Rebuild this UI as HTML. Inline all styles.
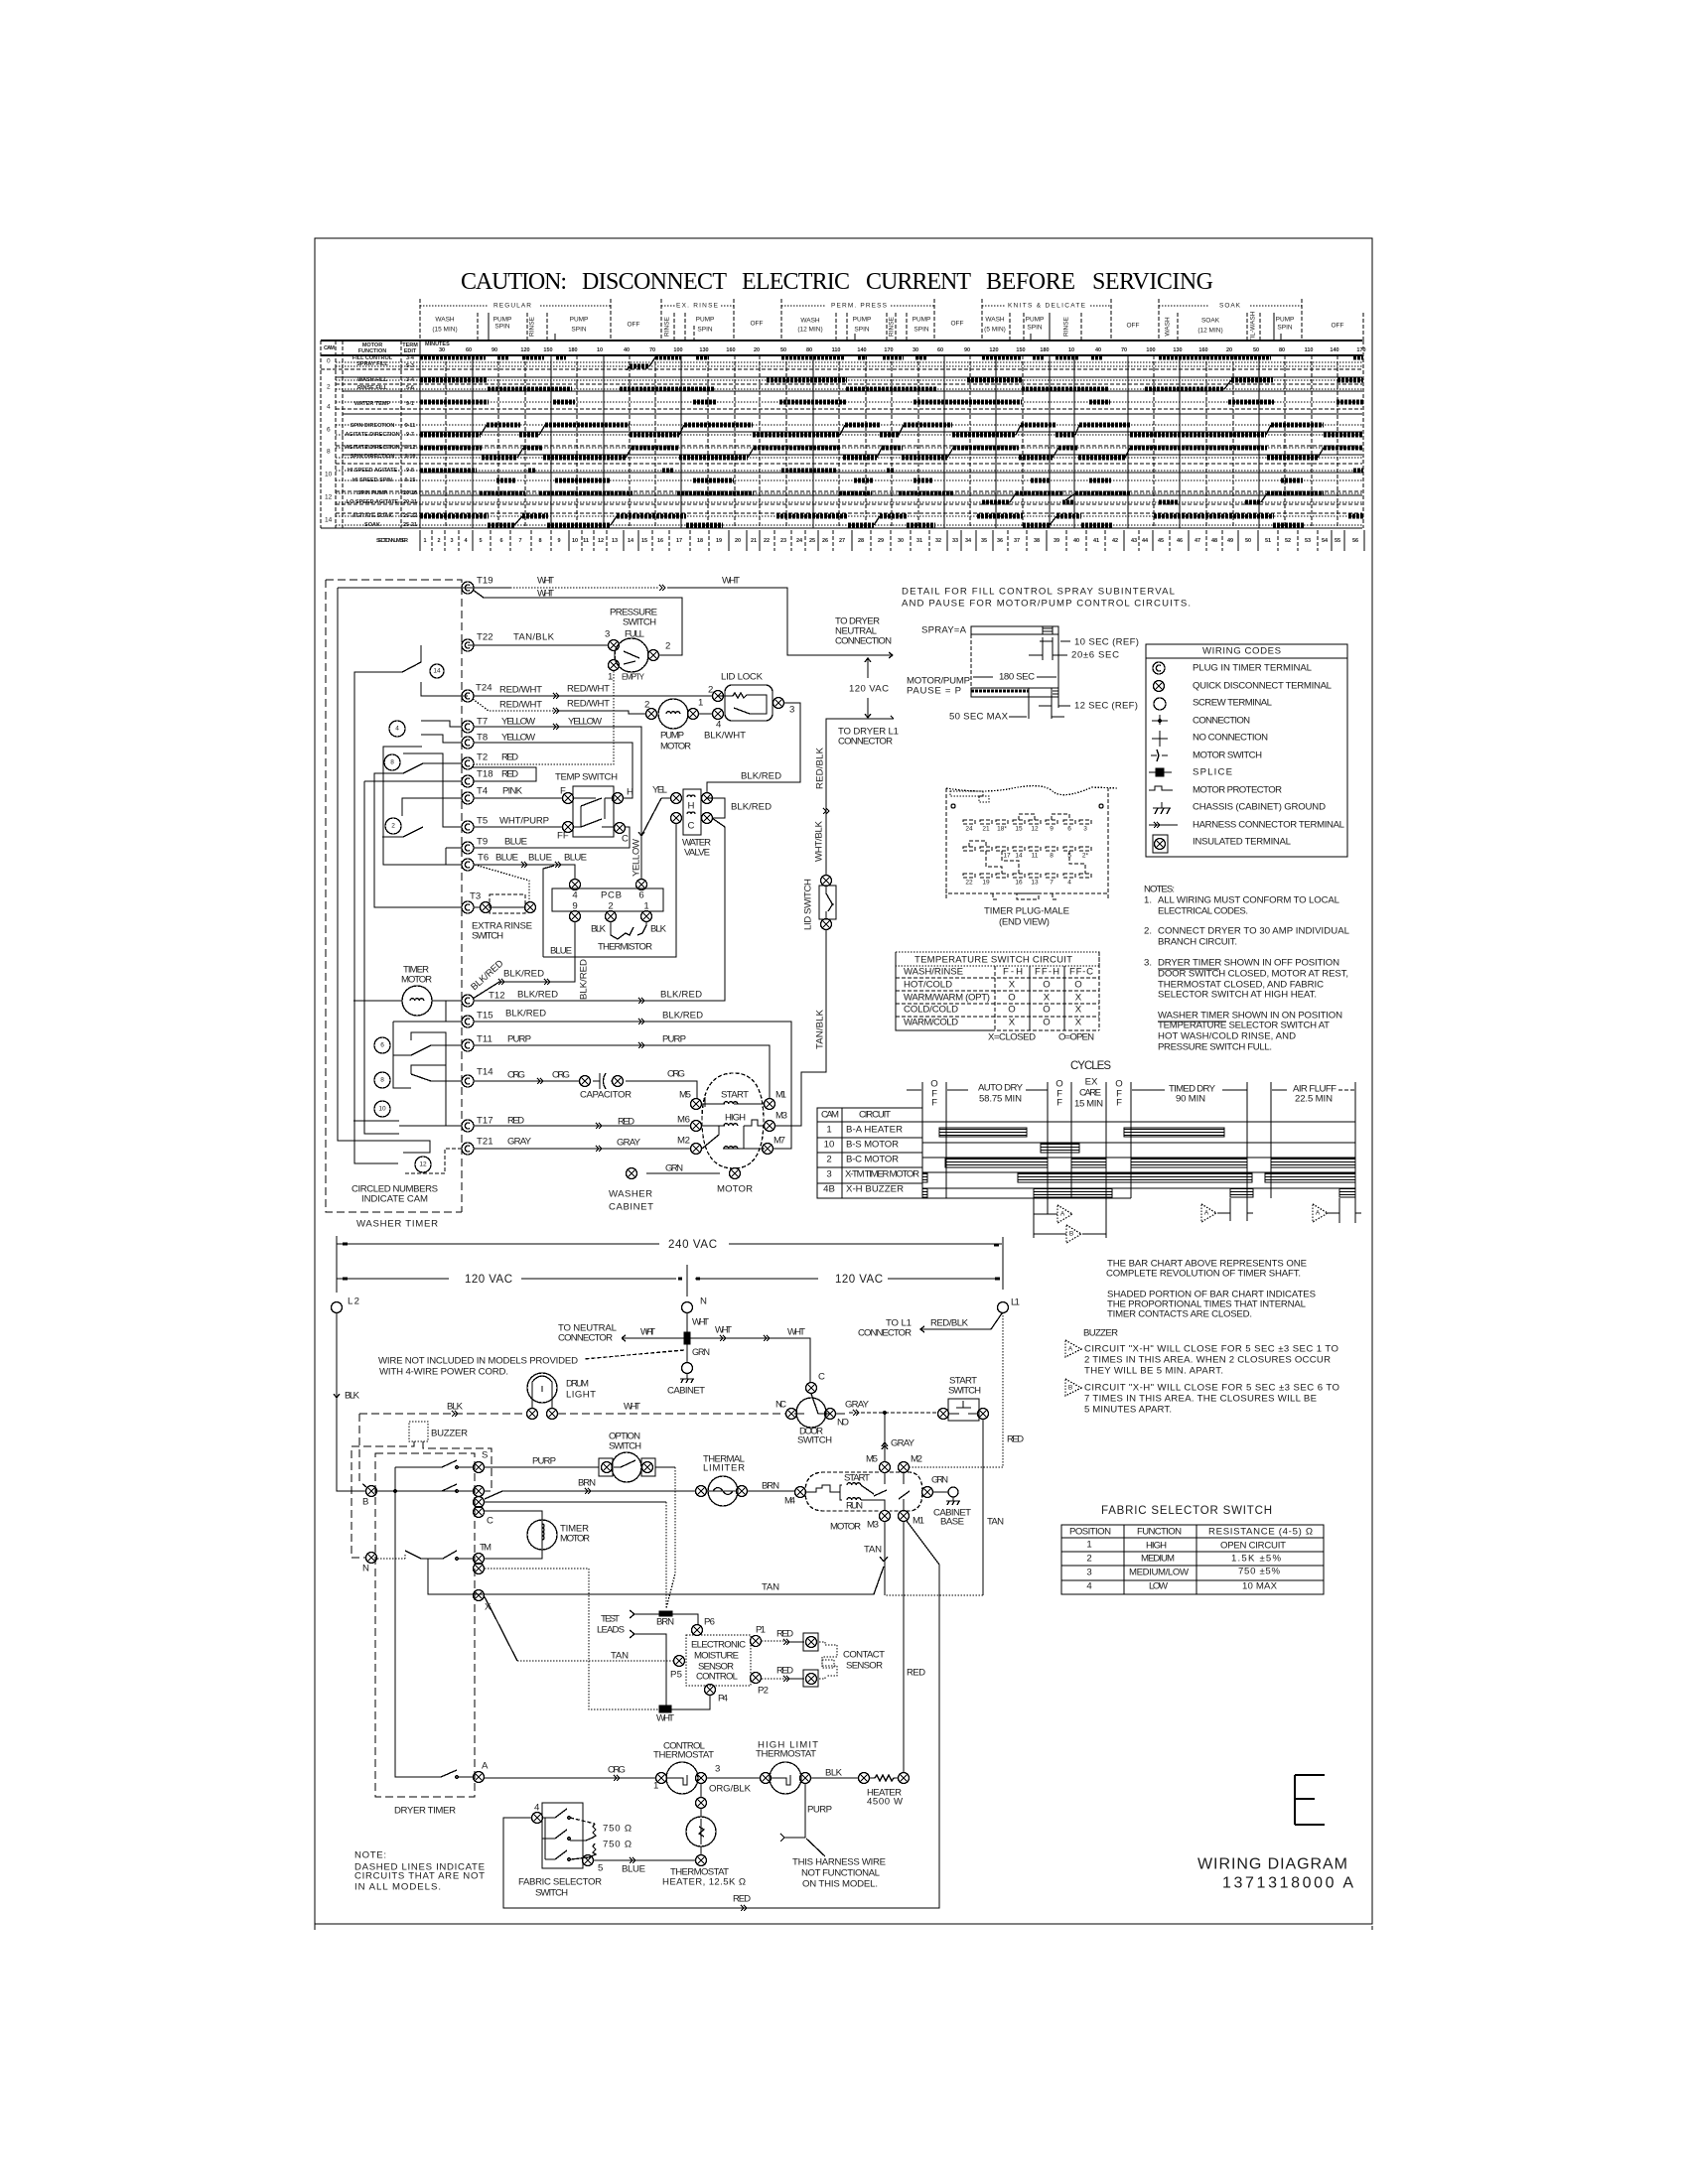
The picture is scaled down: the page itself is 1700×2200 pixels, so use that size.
<!DOCTYPE html>
<html><head><meta charset="utf-8"><title>Wiring Diagram</title>
<style>
html,body{margin:0;padding:0;background:#fff}
svg{display:block}
path,rect,circle,ellipse,line{fill:none;stroke:#000;stroke-width:1.3;shape-rendering:crispEdges}
.d{stroke-dasharray:1.5 1.5}
.da{stroke-dasharray:8 4}
.dm{stroke-dasharray:4 2}
.f{fill:#000}
.w{fill:#fff}
.b{stroke-width:5;stroke-dasharray:3 1;stroke:#000}
text{font-family:"Liberation Sans",sans-serif;font-size:9.6px;fill:#1a1a1a;dominant-baseline:central;stroke:none}
.s{font-size:5.5px;font-weight:bold}
.m{text-anchor:middle}
.n{font-size:6.5px}
.l{font-size:11.5px}
.ti{font-family:"Liberation Serif",serif;font-size:24px;fill:#000}
</style></head><body>
<svg width="1700" height="2200" viewBox="0 0 1700 2200" xmlns="http://www.w3.org/2000/svg">
<defs>
<g id="x"><circle r="5.5"/><path d="M-4-4L4 4M-4 4L4-4"/></g>
<g id="t"><circle r="6"/><path d="M2-2.5A3 3 0 1 0 2 2.5"/></g>
<g id="h"><path d="M-3-3L0 0L-3 3M0-3L3 0L0 3"/></g>
<g id="p"><circle r="1.4" class="w"/></g>
<g id="c"><path d="M-7 0a2.3 2.3 0 0 1 4.6 0a2.3 2.3 0 0 1 4.6 0a2.3 2.3 0 0 1 4.6 0"/></g>
<g id="tri"><path d="M0-9L15 0L0 9Z" class="d"/></g>
</defs>
<rect x="0" y="0" width="1700" height="2200" style="fill:#fff;stroke:none"/>
<rect x="317" y="240" width="1065" height="1698"/>
<path d="M1382 1940V1944M317 1938V1944"/>

<!-- TITLE -->
<text class="ti" x="464" y="284" textLength="107">CAUTION:</text>
<text class="ti" x="586" y="284" textLength="146">DISCONNECT</text>
<text class="ti" x="747" y="284" textLength="109">ELECTRIC</text>
<text class="ti" x="872" y="284" textLength="106">CURRENT</text>
<text class="ti" x="993" y="284" textLength="90">BEFORE</text>
<text class="ti" x="1100" y="284" textLength="122">SERVICING</text>

<!-- CYCLE HEADER -->
<path class="d" d="M423 308H491M544 308H615M666 308H680M726 308H739M787 308H832M897 308H941M989 308H1012M1098 308H1119M1167 308H1218M1259 308H1311"/>
<path class="dm" d="M423 301V343M615 301V343M666 301V343M739 301V343M787 301V343M941 301V343M989 301V343M1119 301V343M1167 301V343M1311 301V343M1373 315V343"/>
<path class="dm" d="M481 315V343M531 315V343M551 315V343M679 315V343M690 315V343M699 328V343M842 315V343M853 315V343M893 315V343M902 315V343M913 315V343M1017 315V343M1031 315V343M1089 315V343M1186 315V343M1256 315V343M1269 315V343"/>
<path d="M492 315V343M559 336V343M861 336V343M1038 336V343M1057 315V343M1283 315V343M1290 336V343"/>
<text class="n" x="497" y="308" textLength="38">REGULAR</text>
<text class="n" x="681" y="308" textLength="42">EX. RINSE</text>
<text class="n" x="837" y="308" textLength="56">PERM. PRESS</text>
<text class="n" x="1015" y="308" textLength="78">KNITS &amp; DELICATE</text>
<text class="n" x="1228" y="308" textLength="21">SOAK</text>
<g class="n">
<text class="n m" x="448" y="322">WASH</text><text class="n m" x="448" y="332">(15 MIN)</text>
<text class="n m" x="506" y="322">PUMP</text><text class="n m" x="506" y="329">SPIN</text>
<text class="n m" x="583" y="322">PUMP</text><text class="n m" x="583" y="332">SPIN</text>
<text class="n m" x="638" y="327">OFF</text>
<text class="n m" x="710" y="322">PUMP</text><text class="n m" x="710" y="332">SPIN</text>
<text class="n m" x="762" y="326">OFF</text>
<text class="n m" x="816" y="323">WASH</text><text class="n m" x="816" y="332">(12 MIN)</text>
<text class="n m" x="868" y="322">PUMP</text><text class="n m" x="868" y="332">SPIN</text>
<text class="n m" x="928" y="322">PUMP</text><text class="n m" x="928" y="332">SPIN</text>
<text class="n m" x="964" y="326">OFF</text>
<text class="n m" x="1002" y="322">WASH</text><text class="n m" x="1002" y="332">(5 MIN)</text>
<text class="n m" x="1042" y="322">PUMP</text><text class="n m" x="1042" y="330">SPIN</text>
<text class="n m" x="1141" y="328">OFF</text>
<text class="n m" x="1219" y="323">SOAK</text><text class="n m" x="1219" y="333">(12 MIN)</text>
<text class="n m" x="1294" y="322">PUMP</text><text class="n m" x="1294" y="330">SPIN</text>
<text class="n m" x="1347" y="328">OFF</text>
<text class="n m" transform="translate(536 329) rotate(-90)">RINSE</text>
<text class="n m" transform="translate(672 329) rotate(-90)">RINSE</text>
<text class="n m" transform="translate(898 329) rotate(-90)">RINSE</text>
<text class="n m" transform="translate(1074 329) rotate(-90)">RINSE</text>
<text class="n m" transform="translate(1176 329) rotate(-90)">WASH</text>
<text class="n m" transform="translate(1262 329) rotate(-90)">TIL-WASH</text>
</g>

<!-- CHART GRID -->
<path d="M323 343H1372" style="stroke-width:1.6"/>
<path d="M323 358H1372" style="stroke-width:1.6"/>
<path d="M338 380H1372M345 394H1372M345 417H1372M423 435H1372M345 458H1372M423 476H1372M423 499H1372M323 532H1372"/>
<path class="dm" d="M323 372H1372M338 387H1372M338 412H1372M338 449H1372M338 467H1372M338 495H1372M338 508H1372M338 517H1372"/>
<path class="d" d="M338 365H1372M338 369H1372M338 383H1372M338 392H1372M338 405H1372M338 428H1372M338 438H1372M338 451H1372M338 461H1372M338 474H1372M338 484H1372M338 497H1372M338 506H1372M338 520H1372M338 529H1372"/>
<path d="M423 343V532M476 358V532M555 358V532M608 358V532M686 358V532M819 358V532M951 358V532M1003 358V532M1057 358V532M1082 358V532M1136 358V532M1188 358V532M1268 358V532"/>
<path class="dm" d="M449 358V532M502 358V532M529 358V532M581 358V532M634 358V532M660 358V532M713 358V532M740 358V532M765 358V532M792 358V532M845 358V532M872 358V532M898 358V532M925 358V532M977 358V532M1030 358V532M1162 358V532M1215 358V532M1242 358V532M1294 358V532M1321 358V532M1347 358V532M1373 343V532"/>
<path class="dm" d="M323 343V532M338 343V532M345 343V532M404 343V532"/>
<!-- BARS -->
<path class="b" d="M423 360H489M501 360H512M526 360H548M560 360H570M660 360H686M701 360H714M787 360H850M864 360H873M889 360H910M922 360H933M989 360H1028M1040 360H1051M1063 360H1087M1099 360H1110M1167 360H1280M1363 360H1373M634 369H654
M423 383H491M772 383H853M974 383H1029M1240 383H1282M1347 383H1373
M491 392H576M624 392H719M852 392H943M1029 392H1117M1153 392H1233
M423 405H492M557 405H579M698 405H721M785 405H853M920 405H1029M1097 405H1118M1237 405H1283M1346 405H1373
M490 428H524M549 428H634M689 428H758M851 428H886M910 428H959M1028 428H1063M1087 428H1138M1280 428H1333
M423 438H484M523 438H543M634 438H684M758 438H846M886 438H905M959 438H1023M1063 438H1083M1138 438H1275M1333 438H1373
M423 451H485M527 451H547M636 451H684M759 451H846M888 451H909M960 451H1026M1066 451H1086M1138 451H1276M1333 451H1373
M485 461H521M547 461H630M684 461H753M849 461H883M908 461H954M1026 461H1060M1086 461H1133M1276 461H1327
M423 474H480M532 474H540M667 474H679M787 474H842M893 474H901M1363 474H1373
M500 484H519M559 484H614M698 484H739M860 484H880M920 484H940M1038 484H1057M1097 484H1119M1290 484H1312
M483 497H529M543 497H637M682 497H759M845 497H878M905 497H961M1023 497H1070M1083 497H1139M1276 497H1333
M989 506H1017M1070 506H1082M1167 506H1187M1254 506H1270
M423 520H492M526 520H552M621 520H691M782 520H854M886 520H913M984 520H1030M1064 520H1089M1162 520H1283M1358 520H1373
M491 529H518M551 529H615M691 529H728M854 529H880M913 529H942M1030 529H1057M1089 529H1121M1282 529H1313"/>
<path d="M631 373L634 369M654 369L660 360M1233 392L1240 383M484 438L490 428M543 438L549 428M684 438L689 428M846 438L851 428M905 438L910 428M1023 438L1028 428M1083 438L1087 428M1275 438L1280 428M521 461L527 451M630 461L636 451M753 461L759 451M883 461L888 451M954 461L960 451M1060 461L1066 451M1133 461L1138 451M1327 461L1333 451M1017 506L1023 497M1070 506L1083 497M1270 506L1276 497M518 529L526 520M615 529L621 520M880 529L886 520M1057 529L1064 520"/>
<!-- left labels -->
<text class="s" x="326" y="351" textLength="11">CAM</text>
<text class="s m" x="375" y="348">MOTOR</text><text class="s m" x="375" y="354">FUNCTION</text>
<text class="s m" x="413" y="348">TERM</text><text class="s m" x="413" y="354">EDIT</text>
<text class="n" x="329" y="364">0</text><text class="n" x="329" y="390">2</text><text class="n" x="329" y="410">4</text><text class="n" x="329" y="433">6</text><text class="n" x="329" y="455">8</text><text class="n" x="327" y="478">10</text><text class="n" x="327" y="501">12</text><text class="n" x="327" y="524">14</text>
<g>
<text class="s m" x="375" y="361">FILL CONTROL</text><text class="s m" x="375" y="367">SPRAY FILL</text>
<text class="s m" x="375" y="383">WASH FILL</text><text class="s m" x="375" y="391">RINSE FILL</text>
<text class="s m" x="375" y="407">WATER TEMP</text>
<text class="s m" x="375" y="429">SPIN DIRECTION</text><text class="s m" x="375" y="438">AGITATE DIRECTION</text>
<text class="s m" x="375" y="451">AGITATE DIRECTION</text><text class="s m" x="375" y="460">SPIN DIRECTION</text>
<text class="s m" x="375" y="474">HI SPEED AGITATE</text><text class="s m" x="375" y="484">HI SPEED SPIN</text>
<text class="s m" x="375" y="497">SPIN PUMP</text><text class="s m" x="375" y="506">LO SPEED AGITATE</text>
<text class="s m" x="375" y="520">AGITATE SOAK</text><text class="s m" x="375" y="529">SOAK</text>
<text class="s m" x="413" y="361">3-4</text><text class="s m" x="413" y="369">5-3</text><text class="s m" x="413" y="383">3-4</text><text class="s m" x="413" y="391">5-6</text><text class="s m" x="413" y="407">9-1</text><text class="s m" x="413" y="429">9-11</text><text class="s m" x="413" y="438">9-7</text><text class="s m" x="413" y="451">9-12</text><text class="s m" x="413" y="460">9-16</text><text class="s m" x="413" y="474">9-8</text><text class="s m" x="413" y="484">9-15</text><text class="s m" x="413" y="497">20-16</text><text class="s m" x="413" y="506">20-21</text><text class="s m" x="413" y="520">25-22</text><text class="s m" x="413" y="529">25-21</text>
</g>
<text class="s" x="428" y="347">MINUTES</text>
<g>
<text class="s m" x="445" y="353">30</text><text class="s m" x="472" y="353">60</text><text class="s m" x="498" y="353">90</text><text class="s m" x="529" y="353">120</text><text class="s m" x="552" y="353">150</text><text class="s m" x="577" y="353">180</text><text class="s m" x="604" y="353">10</text><text class="s m" x="631" y="353">40</text><text class="s m" x="657" y="353">70</text><text class="s m" x="683" y="353">100</text><text class="s m" x="709" y="353">130</text><text class="s m" x="736" y="353">160</text><text class="s m" x="762" y="353">20</text><text class="s m" x="789" y="353">50</text><text class="s m" x="815" y="353">80</text><text class="s m" x="842" y="353">110</text><text class="s m" x="868" y="353">140</text><text class="s m" x="895" y="353">170</text><text class="s m" x="922" y="353">30</text><text class="s m" x="947" y="353">60</text><text class="s m" x="974" y="353">90</text><text class="s m" x="1001" y="353">120</text><text class="s m" x="1028" y="353">150</text><text class="s m" x="1052" y="353">180</text><text class="s m" x="1079" y="353">10</text><text class="s m" x="1106" y="353">40</text><text class="s m" x="1132" y="353">70</text><text class="s m" x="1159" y="353">100</text><text class="s m" x="1186" y="353">130</text><text class="s m" x="1212" y="353">160</text><text class="s m" x="1238" y="353">20</text><text class="s m" x="1265" y="353">50</text><text class="s m" x="1291" y="353">80</text><text class="s m" x="1318" y="353">110</text><text class="s m" x="1344" y="353">140</text><text class="s m" x="1371" y="353">170</text>
</g>
<!-- section numbers -->
<text class="s" x="379" y="545" textLength="32">SECTION NUMBER</text>
<path d="M423 534V555M476 534V555M573 534V555M628 534V555M643 534V555M734 534V555M752 534V555M765 534V555M824 534V555M858 534V555M954 534V555M968 534V555M983 534V555M1000 534V555M1054 534V555M1132 534V555M1161 534V555M1197 534V555M1247 534V555M1267 534V555M1341 534V555M1354 534V555M1374 534V555"/>
<path class="dm" d="M435 534V555M448 534V555M462 534V555M494 534V555M514 534V555M535 534V555M555 534V555M586 534V555M598 534V555M611 534V555M657 534V555M674 534V555M695 534V555M714 534V555M780 534V555M797 534V555M811 534V555M839 534V555M877 534V555M897 534V555M917 534V555M936 534V555M1015 534V555M1034 534V555M1074 534V555M1094 534V555M1113 534V555M1147 534V555M1178 534V555M1215 534V555M1231 534V555M1287 534V555M1307 534V555M1327 534V555"/>
<g>
<text class="s m" x="428" y="545">1</text><text class="s m" x="442" y="545">2</text><text class="s m" x="455" y="545">3</text><text class="s m" x="469" y="545">4</text><text class="s m" x="484" y="545">5</text><text class="s m" x="505" y="545">6</text><text class="s m" x="524" y="545">7</text><text class="s m" x="544" y="545">8</text><text class="s m" x="563" y="545">9</text><text class="s m" x="579" y="545">10</text><text class="s m" x="590" y="545">11</text><text class="s m" x="605" y="545">12</text><text class="s m" x="619" y="545">13</text><text class="s m" x="635" y="545">14</text><text class="s m" x="649" y="545">15</text><text class="s m" x="665" y="545">16</text><text class="s m" x="684" y="545">17</text><text class="s m" x="705" y="545">18</text><text class="s m" x="724" y="545">19</text><text class="s m" x="743" y="545">20</text><text class="s m" x="759" y="545">21</text><text class="s m" x="772" y="545">22</text><text class="s m" x="789" y="545">23</text><text class="s m" x="805" y="545">24</text><text class="s m" x="818" y="545">25</text><text class="s m" x="831" y="545">26</text><text class="s m" x="848" y="545">27</text><text class="s m" x="867" y="545">28</text><text class="s m" x="887" y="545">29</text><text class="s m" x="907" y="545">30</text><text class="s m" x="926" y="545">31</text><text class="s m" x="945" y="545">32</text><text class="s m" x="962" y="545">33</text><text class="s m" x="975" y="545">34</text><text class="s m" x="991" y="545">35</text><text class="s m" x="1007" y="545">36</text><text class="s m" x="1024" y="545">37</text><text class="s m" x="1044" y="545">38</text><text class="s m" x="1064" y="545">39</text><text class="s m" x="1084" y="545">40</text><text class="s m" x="1104" y="545">41</text><text class="s m" x="1123" y="545">42</text><text class="s m" x="1142" y="545">43</text><text class="s m" x="1153" y="545">44</text><text class="s m" x="1169" y="545">45</text><text class="s m" x="1188" y="545">46</text><text class="s m" x="1206" y="545">47</text><text class="s m" x="1223" y="545">48</text><text class="s m" x="1239" y="545">49</text><text class="s m" x="1257" y="545">50</text><text class="s m" x="1277" y="545">51</text><text class="s m" x="1297" y="545">52</text><text class="s m" x="1317" y="545">53</text><text class="s m" x="1334" y="545">54</text><text class="s m" x="1347" y="545">55</text><text class="s m" x="1365" y="545">56</text>
</g>

<!-- WASHER TIMER -->
<path class="da" d="M328 584H465V1221M328 584V1221H465"/>
<path d="M340 592H514M672 592H793V660H898M895 657L899 660L895 663M340 592V1149H433V1161H406"/>
<path class="d" d="M514 592H664"/>
<path d="M476 594L487 602H687V660H664"/>
<path d="M471 650H612M424 650V667L405 677H357V1172H401M424 687V701H471M476 701H717"/>
<path class="d" d="M476 704L492 716H560M618 676V770H477"/>
<path d="M560 716H633V719H650"/>
<path d="M424 726H453V732H465M477 732H646V885M424 740H446V748H465M477 748H637V804H628M425 752H386V871H465"/>
<path d="M406 759H446V833H465M426 769H465M406 779L426 769M406 779H377V914H465M367 787H465M367 787V1142H402"/>
<path d="M476 773H540V787H476"/>
<path d="M405 822V804H465M477 804H567M385 843H406L426 833M477 833H567M477 854H634V833H629M449 854H465M449 854V871"/>
<path d="M477 871H579V886M547 964V875L558 872M547 964H681V830"/>
<path class="d" d="M478 871L533 887V908"/>
<path d="M577 792H618V843H577ZM578 804H600M609 804V825M609 804H618M578 833H585V812M585 812L606 804M585 833L606 825M606 833H618"/>
<path d="M477 914H484M494 914H529"/>
<path class="dm" d="M493 901H529V920H493Z"/>
<path d="M556 895H668V918H556Z"/>
<path d="M579 929V989H556M503 989L476 1006M503 989H556"/>
<path d="M615 929V942L622 946L630 940L634 942L638 934M642 942L647 940L651 932V929"/>
<path d="M666 804H676M666 804L646 842M643 838L646 842L649 838M688 795H706V841H688ZM712 804H730V824H718M717 824L730 833V1008H477"/>
<path d="M712 798V788H806V708H790"/>
<path d="M477 1029H797V1157H778M477 1053H775V1107M477 1089H583M597 1089H604M615 1089H616M630 1089H702V1107M604 1081V1097M610 1081Q605 1089 610 1097M477 1134H696M477 1157H696"/>
<path class="dm" d="M465 1157H448V1182H406"/>
<path d="M692 803a2 2 0 0 1 4 0a2 2 0 0 1 4 0M692 820a2 2 0 0 1 4 0a2 2 0 0 1 4 0"/>
<!-- switches dryer wiring left -->
<path d="M356 1008H405M435 1008H465M449 1008V1029M396 1029H465M396 1029V1096H414M396 1063H414L434 1053H465M414 1048V1040H449V1134M414 1082V1073H449M414 1082L434 1089H465M356 1129H402M402 1134H465M357 1172H392"/>
<circle cx="420" cy="1008" r="15"/><use href="#c" x="420" y="1008"/>
<!-- Circled cams -->
<circle cx="440" cy="676" r="7"/><text class="n m" x="440" y="676">14</text>
<circle cx="400" cy="734" r="8"/><text class="n m" x="400" y="734">4</text>
<circle cx="395" cy="768" r="8"/><text class="n m" x="395" y="768">8</text>
<circle cx="396" cy="832" r="8"/><text class="n m" x="396" y="832">2</text>
<circle cx="385" cy="1053" r="8"/><text class="n m" x="385" y="1053">6</text>
<circle cx="385" cy="1088" r="8"/><text class="n m" x="385" y="1088">8</text>
<circle cx="385" cy="1117" r="8"/><text class="n m" x="385" y="1117">10</text>
<circle cx="426" cy="1173" r="8"/><text class="n m" x="426" y="1173">12</text>
<!-- terminals T -->
<use href="#t" x="471" y="592"/><use href="#t" x="471" y="650"/><use href="#t" x="471" y="701"/><use href="#t" x="471" y="732"/><use href="#t" x="471" y="748"/><use href="#t" x="471" y="769"/><use href="#t" x="471" y="787"/><use href="#t" x="471" y="804"/><use href="#t" x="471" y="833"/><use href="#t" x="471" y="854"/><use href="#t" x="471" y="871"/><use href="#t" x="471" y="914"/><use href="#t" x="471" y="1008"/><use href="#t" x="471" y="1029"/><use href="#t" x="471" y="1053"/><use href="#t" x="471" y="1089"/><use href="#t" x="471" y="1134"/><use href="#t" x="471" y="1157"/>
<!-- harness -->
<use href="#h" x="667" y="592"/><use href="#h" x="560" y="701"/><use href="#h" x="560" y="716"/><use href="#h" x="560" y="732"/><use href="#h" x="528" y="871"/><use href="#h" x="562" y="871"/><use href="#h" x="505" y="989"/><use href="#h" x="551" y="989"/><use href="#h" x="646" y="1008"/><use href="#h" x="646" y="1029"/><use href="#h" x="646" y="1053"/><use href="#h" x="544" y="1089"/><use href="#h" x="603" y="1134"/><use href="#h" x="603" y="1157"/>
<!-- x terminals -->
<use href="#x" x="618" y="650"/><use href="#x" x="658" y="660"/><use href="#x" x="618" y="670"/><use href="#x" x="723" y="701"/><use href="#x" x="723" y="719"/><use href="#x" x="784" y="708"/><use href="#x" x="656" y="719"/><use href="#x" x="698" y="719"/><use href="#x" x="572" y="804"/><use href="#x" x="622" y="804"/><use href="#x" x="572" y="833"/><use href="#x" x="624" y="834"/><use href="#x" x="681" y="804"/><use href="#x" x="681" y="824"/><use href="#x" x="712" y="804"/><use href="#x" x="712" y="824"/><use href="#x" x="579" y="891"/><use href="#x" x="646" y="891"/><use href="#x" x="579" y="923"/><use href="#x" x="615" y="923"/><use href="#x" x="651" y="923"/><use href="#x" x="489" y="914"/><use href="#x" x="534" y="914"/><use href="#x" x="589" y="1089"/><use href="#x" x="622" y="1089"/><use href="#x" x="701" y="1112"/><use href="#x" x="701" y="1134"/><use href="#x" x="701" y="1157"/><use href="#x" x="775" y="1112"/><use href="#x" x="775" y="1134"/><use href="#x" x="773" y="1157"/><use href="#x" x="740" y="1182"/><use href="#x" x="636" y="1182"/><use href="#x" x="832" y="887"/><use href="#x" x="832" y="931"/>
<!-- pressure switch -->
<circle cx="636" cy="660" r="17"/><path d="M628 656L644 663M628 669L640 666"/>
<!-- pump motor -->
<circle cx="678" cy="719" r="15"/><use href="#c" x="678" y="719"/><path d="M703 719H717"/>
<!-- lid lock -->
<rect x="730" y="690" width="48" height="36" rx="7"/><path d="M723 701H738l2-3 3 5 3-5 3 5 3-3H772V719H755L739 713M730 701V713"/>
<!-- lid switch -->
<path d="M832 893V900M832 918V925M825 892H842V926H825ZM832 900L839 912M834 918L839 910"/>
<path d="M832 881V724H900M832 937V1080H807V1134H780M897 721L900 724"/><use href="#h" x="832" y="817"/>
<!-- washer motor -->
<path class="dm" d="M707 1128Q707 1081 739 1081Q769 1081 769 1128Q769 1177 739 1177Q707 1177 707 1128Z"/>
<path d="M707 1112H730M739 1112H769M707 1134H730M707 1157L724 1143V1134M749 1134V1157M728 1157H770M749 1134H757V1128H763V1134H770"/>
<use href="#c" x="736" y="1112"/><use href="#c" x="736" y="1134"/><use href="#c" x="736" y="1157"/>
<path d="M651 1182H725M710 1105V1115"/>
<!-- Washer labels -->
<g>
<text x="480" y="585">T19</text><text x="541" y="585" textLength="17">WHT</text><text x="541" y="598" textLength="17">WHT</text><text x="727" y="585" textLength="18">WHT</text>
<text x="614" y="617" textLength="48">PRESSURE</text><text x="627" y="627" textLength="34">SWITCH</text><text x="629" y="639" textLength="20">FULL</text><text x="609" y="639">3</text><text x="670" y="651">2</text><text x="612" y="682">1</text><text x="626" y="682" textLength="23" style="font-size:8px">EMPTY</text>
<text x="480" y="642">T22</text><text x="517" y="642" textLength="41">TAN/BLK</text>
<text x="479" y="693">T24</text><text x="503" y="695" textLength="43">RED/WHT</text><text x="571" y="694" textLength="43">RED/WHT</text><text x="503" y="710" textLength="43">RED/WHT</text><text x="571" y="709" textLength="43">RED/WHT</text>
<text x="649" y="710">2</text><text x="703" y="708">1</text><text x="665" y="741" textLength="24">PUMP</text><text x="665" y="752" textLength="31">MOTOR</text>
<text x="726" y="682" textLength="42">LID LOCK</text><text x="713" y="695">2</text><text x="721" y="730">4</text><text x="709" y="741" textLength="42">BLK/WHT</text><text x="795" y="715">3</text>
<text x="480" y="727">T7</text><text x="505" y="727" textLength="34">YELLOW</text><text x="572" y="727" textLength="34">YELLOW</text>
<text x="480" y="743">T8</text><text x="505" y="743" textLength="34">YELLOW</text>
<text x="480" y="763">T2</text><text x="505" y="763" textLength="17">RED</text><text x="480" y="780">T18</text><text x="505" y="780" textLength="17">RED</text>
<text x="559" y="783" textLength="63">TEMP SWITCH</text><text x="564" y="797">F</text><text x="631" y="798">H</text><text x="561" y="842">FF</text><text x="626" y="845">C</text>
<text x="480" y="797">T4</text><text x="506" y="797" textLength="20">PINK</text><text x="480" y="827">T5</text><text x="503" y="827" textLength="50">WHT/PURP</text>
<text x="480" y="848">T9</text><text x="508" y="848" textLength="23">BLUE</text><text x="481" y="864">T6</text><text x="499" y="864" textLength="23">BLUE</text><text x="532" y="864" textLength="24">BLUE</text><text x="568" y="864" textLength="23">BLUE</text>
<text x="473" y="903">T3</text><text x="475" y="933" textLength="61">EXTRA RINSE</text><text x="475" y="943" textLength="32">SWITCH</text>
<text class="m" x="579" y="902">4</text><text x="605" y="902" textLength="21">PCB</text><text class="m" x="646" y="902">6</text><text class="m" x="579" y="913">9</text><text class="m" x="615" y="913">2</text><text class="m" x="651" y="913">1</text>
<text x="595" y="936" textLength="15">BLK</text><text x="655" y="936" textLength="16">BLK</text><text x="602" y="954" textLength="55">THERMISTOR</text><text x="554" y="958" textLength="22">BLUE</text>
<text x="657" y="796" textLength="15">YEL</text><text x="746" y="782" textLength="41">BLK/RED</text><text x="736" y="813" textLength="41">BLK/RED</text>
<text class="m" x="696" y="812">H</text><text class="m" x="696" y="832">C</text><text x="687" y="849" textLength="29">WATER</text><text x="689" y="859" textLength="26">VALVE</text>
<text transform="translate(641 883) rotate(-90)" textLength="38">YELLOW</text>
<text transform="translate(826 795) rotate(-90)" textLength="42">RED/BLK</text><text transform="translate(825 868) rotate(-90)" textLength="41">WHT/BLK</text><text transform="translate(814 937) rotate(-90)" textLength="52">LID SWITCH</text><text transform="translate(826 1057) rotate(-90)" textLength="40">TAN/BLK</text>
<text transform="translate(588 1007) rotate(-90)" textLength="41">BLK/RED</text><text transform="translate(476 996) rotate(-42)" textLength="40">BLK/RED</text>
<text x="507" y="981" textLength="41">BLK/RED</text><text x="492" y="1003">T12</text><text x="521" y="1002" textLength="41">BLK/RED</text><text x="665" y="1002" textLength="42">BLK/RED</text>
<text x="480" y="1023">T15</text><text x="509" y="1021" textLength="41">BLK/RED</text><text x="667" y="1023" textLength="41">BLK/RED</text>
<text x="480" y="1047">T11</text><text x="511" y="1047" textLength="24">PURP</text><text x="667" y="1047" textLength="24">PURP</text>
<text x="480" y="1080">T14</text><text x="511" y="1083" textLength="18">ORG</text><text x="556" y="1083" textLength="18">ORG</text><text x="672" y="1082" textLength="18">ORG</text><text x="584" y="1103" textLength="52">CAPACITOR</text>
<text x="480" y="1129">T17</text><text x="511" y="1129" textLength="17">RED</text><text x="622" y="1130" textLength="17">RED</text><text x="480" y="1150">T21</text><text x="511" y="1150" textLength="24">GRAY</text><text x="621" y="1151" textLength="24">GRAY</text>
<text x="684" y="1103" textLength="12">M5</text><text x="682" y="1128" textLength="13">M6</text><text x="682" y="1149" textLength="13">M2</text><text x="781" y="1103" textLength="11">M1</text><text x="781" y="1124" textLength="12">M3</text><text x="779" y="1149" textLength="12">M7</text>
<text x="726" y="1103" textLength="28">START</text><text x="730" y="1126" textLength="21">HIGH</text><text x="670" y="1177" textLength="18">GRN</text><text x="722" y="1198" textLength="36">MOTOR</text><text x="613" y="1203" textLength="44">WASHER</text><text x="613" y="1216" textLength="45">CABINET</text>
<text x="406" y="977" textLength="26">TIMER</text><text x="404" y="987" textLength="31">MOTOR</text>
<text x="354" y="1198" textLength="87">CIRCLED NUMBERS</text><text x="364" y="1208" textLength="67">INDICATE CAM</text><text x="359" y="1233" textLength="82">WASHER TIMER</text>
</g>

<!-- CENTRE TEXT AND ARROWS -->
<text x="841" y="626" textLength="45">TO DRYER</text><text x="841" y="636" textLength="42">NEUTRAL</text><text x="841" y="646" textLength="57">CONNECTION</text>
<text x="855" y="694" textLength="40">120 VAC</text>
<path d="M874 663V683M874 703V723M871 667L874 663L877 667M871 719L874 723L877 719"/>
<text x="844" y="737" textLength="61">TO DRYER L1</text><text x="844" y="747" textLength="55">CONNECTOR</text>

<!-- DETAIL -->
<text x="908" y="596" textLength="275">DETAIL FOR FILL CONTROL SPRAY SUBINTERVAL</text>
<text x="908" y="608" textLength="291">AND PAUSE FOR MOTOR/PUMP CONTROL CIRCUITS.</text>
<text x="928" y="635" textLength="45">SPRAY=A</text><text x="913" y="686" textLength="64">MOTOR/PUMP</text><text x="913" y="696" textLength="55">PAUSE = P</text>
<text x="1082" y="647" textLength="65">10 SEC (REF)</text><text x="1079" y="660" textLength="48">20±6 SEC</text><text x="1006" y="682" textLength="36">180 SEC</text><text x="1082" y="711" textLength="64">12 SEC (REF)</text><text x="956" y="722" textLength="59">50 SEC MAX</text>
<path d="M978 639H1066V631H978ZM1050 631V639M1060 631V639M1050 633H1060M1050 636H1060M1050 642V665M1060 642V665M1066 639V695M1036 693V724M1059 693V724M1066 702V713"/>
<path class="dm" d="M978 639V702"/>
<path d="M978 693H1066V702H978ZM1059 693V702M1060 696H1066M1060 699H1066M1047 646H1060M1068 646H1078M1036 660H1050M1060 660H1075M1046 711H1059M1066 711H1078M1016 722H1034M1059 722H1072M1044 682H1064M980 682H1000"/>
<path style="stroke-width:3;stroke-dasharray:3 1" d="M978 696H1036"/>

<!-- WIRING CODES -->
<rect x="1154" y="649" width="203" height="214" style="stroke-width:1.4"/><path d="M1154 663H1357"/>
<text x="1211" y="656" textLength="79">WIRING CODES</text>
<text x="1201" y="673" textLength="120">PLUG IN TIMER TERMINAL</text>
<text x="1201" y="691" textLength="140">QUICK DISCONNECT TERMINAL</text>
<text x="1201" y="708" textLength="80">SCREW TERMINAL</text>
<text x="1201" y="726" textLength="58">CONNECTION</text>
<text x="1201" y="743" textLength="76">NO CONNECTION</text>
<text x="1201" y="761" textLength="70">MOTOR SWITCH</text>
<text x="1201" y="778" textLength="40">SPLICE</text>
<text x="1201" y="796" textLength="90">MOTOR PROTECTOR</text>
<text x="1201" y="813" textLength="134">CHASSIS (CABINET) GROUND</text>
<text x="1201" y="831" textLength="153">HARNESS CONNECTOR TERMINAL</text>
<text x="1201" y="848" textLength="99">INSULATED TERMINAL</text>
<use href="#t" x="1167" y="673"/><use href="#x" x="1167" y="691"/><circle cx="1168" cy="709" r="6"/>
<path d="M1160 726H1176M1168 720V730M1160 744H1176M1168 736V752M1159 761H1165M1170 761H1176M1165 755L1167 761L1165 767M1157 778H1180M1157 796H1163V792H1170V796H1181M1161 814H1179M1170 808V814M1163 820L1166 814M1169 820L1172 814M1175 820L1178 814M1157 831H1186"/>
<use href="#h" x="1165" y="831"/><rect x="1161" y="841" width="15" height="18"/><use href="#x" x="1168" y="850"/><circle cx="1168" cy="726" r="1.5" class="f"/>
<rect x="1164" y="774" width="8" height="8" class="f" style="fill:#000"/>

<!-- TIMER PLUG -->
<path class="d" d="M953 794Q990 800 1020 794T1060 797T1100 793L1126 794"/>
<path class="dm" d="M953 794V900H1116V794"/>
<path class="d" d="M957 797H990V802H957ZM986 802H996V808H986Z"/>
<circle cx="960" cy="812" r="2"/><circle cx="1109" cy="812" r="2"/>
<path class="dm" d="M970 826h12v4h-12zM987 826h12v4h-12zM1003 826h12v4h-12zM1020 826h12v4h-12zM1036 826h12v4h-12zM1053 826h12v4h-12zM1071 826h12v4h-12zM1087 826h12v4h-12zM970 853h12v4h-12zM987 853h12v4h-12zM1003 853h12v4h-12zM1020 853h12v4h-12zM1036 853h12v4h-12zM1053 853h12v4h-12zM1071 853h12v4h-12zM1087 853h12v4h-12zM970 880h12v4h-12zM987 880h12v4h-12zM1003 880h12v4h-12zM1020 880h12v4h-12zM1036 880h12v4h-12zM1053 880h12v4h-12zM1071 880h12v4h-12zM1087 880h12v4h-12zM1026 826V820H1042V826M1059 826V820H1077V826M976 853V847H993V853M993 857V873H1009V880M1009 857V867H1026V880M1077 857V870H1093V880"/>
<path class="dm" d="M953 895V906M1116 895V906M1000 900V906H1004M1024 900H1046V906H1024ZM1060 900V906H1065"/>
<g>
<text class="n m" x="976" y="835">24</text><text class="n m" x="993" y="835">21</text><text class="n m" x="1009" y="835">18*</text><text class="n m" x="1026" y="835">15</text><text class="n m" x="1042" y="835">12</text><text class="n m" x="1059" y="835">9</text><text class="n m" x="1077" y="835">6</text><text class="n m" x="1093" y="835">3</text>
<text class="n m" x="1014" y="862">17</text><text class="n m" x="1026" y="862">14</text><text class="n m" x="1042" y="862">11</text><text class="n m" x="1059" y="862">8</text><text class="n m" x="1077" y="862">5</text><text class="n m" x="1093" y="862">2*</text>
<text class="n m" x="976" y="889">22</text><text class="n m" x="993" y="889">19</text><text class="n m" x="1026" y="889">16</text><text class="n m" x="1042" y="889">13</text><text class="n m" x="1059" y="889">7</text><text class="n m" x="1077" y="889">4</text>
</g>
<text x="991" y="918" textLength="86">TIMER PLUG-MALE</text><text x="1006" y="929" textLength="51">(END VIEW)</text>

<!-- TEMP TABLE -->
<path class="d" d="M902 959H1107V973H902"/>
<path class="dm" d="M902 985H1107M902 998H1107M902 1011H1107M902 1024H1107M902 1038H1107M1002 973V1038M1107 959V1038"/>
<path d="M902 959V1038H1002M1037 973V1038M1072 973V1038"/>
<text x="921" y="967" textLength="159">TEMPERATURE SWITCH CIRCUIT</text>
<text x="910" y="979" textLength="60">WASH/RINSE</text><text x="1010" y="979" textLength="20">F-H</text><text x="1042" y="979" textLength="25">FF-H</text><text x="1077" y="979" textLength="24">FF-C</text>
<text x="910" y="992" textLength="49">HOT/COLD</text><text class="m" x="1019" y="992">X</text><text class="m" x="1054" y="992">O</text><text class="m" x="1086" y="992">O</text>
<text x="910" y="1005" textLength="87">WARM/WARM (OPT)</text><text class="m" x="1019" y="1005">O</text><text class="m" x="1054" y="1005">X</text><text class="m" x="1086" y="1005">X</text>
<text x="910" y="1017" textLength="55">COLD/COLD</text><text class="m" x="1019" y="1017">O</text><text class="m" x="1054" y="1017">O</text><text class="m" x="1086" y="1017">X</text>
<text x="910" y="1030" textLength="55">WARM/COLD</text><text class="m" x="1019" y="1030">X</text><text class="m" x="1054" y="1030">O</text><text class="m" x="1086" y="1030">X</text>
<text x="995" y="1045" textLength="48">X=CLOSED</text><text x="1066" y="1045" textLength="36">O=OPEN</text>

<!-- NOTES -->
<text x="1152" y="896" textLength="31">NOTES:</text>
<text x="1152" y="907">1.</text><text x="1166" y="907" textLength="183">ALL WIRING MUST CONFORM TO LOCAL</text><text x="1166" y="918" textLength="91">ELECTRICAL CODES.</text>
<text x="1152" y="938">2.</text><text x="1166" y="938" textLength="193">CONNECT DRYER TO 30 AMP INDIVIDUAL</text><text x="1166" y="949" textLength="80">BRANCH CIRCUIT.</text>
<text x="1152" y="970">3.</text><text x="1166" y="970" textLength="183">DRYER TIMER SHOWN IN OFF POSITION</text><path d="M1166 976H1228"/>
<text x="1166" y="981" textLength="192">DOOR SWITCH CLOSED, MOTOR AT REST,</text><text x="1166" y="992" textLength="167">THERMOSTAT CLOSED, AND FABRIC</text><text x="1166" y="1002" textLength="160">SELECTOR SWITCH AT HIGH HEAT.</text>
<text x="1166" y="1023" textLength="186">WASHER TIMER SHOWN IN ON POSITION</text><path d="M1166 1029H1235"/>
<text x="1166" y="1033" textLength="173">TEMPERATURE SELECTOR SWITCH AT</text><text x="1166" y="1044" textLength="139">HOT WASH/COLD RINSE, AND</text><text x="1166" y="1055" textLength="115">PRESSURE SWITCH FULL.</text>

<!-- CYCLES -->
<text x="1078" y="1074" textLength="41" class="l">CYCLES</text>
<rect x="823" y="1116" width="106" height="91" style="stroke-width:1.4"/>
<path d="M848 1116V1207M823 1130H929M823 1146H929M823 1161H929M823 1176H929M823 1192H929"/>
<path d="M929 1130H1365M929 1151H1365M929 1166H1365M929 1181H1365M929 1197H1365M929 1207H1139"/>
<path d="M929 1090V1207M953 1090V1207M1055 1090V1223M1079 1090V1207M1114 1090V1247M1139 1090V1207M1256 1090V1230M1280 1090V1207M1365 1090V1232M1041 1207V1247M1239 1207V1230M1349 1207V1232"/>
<path d="M913 1098H928M954 1098H975M1033 1098H1055M1140 1098H1173M1231 1098H1256M1281 1098H1296"/><path class="dm" d="M1348 1098H1365"/>
<defs><pattern id="st" width="4" height="3" patternUnits="userSpaceOnUse"><rect width="4" height="1" style="fill:#000;stroke:none"/></pattern></defs>
<path style="fill:url(#st)" d="M946 1136H1034V1145H946ZM1132 1136H1233V1145H1132ZM1048 1152H1087V1161H1048ZM952 1167H1055V1176H952ZM1079 1167H1114V1176H1079ZM1139 1167H1256V1176H1139ZM1280 1167H1365V1176H1280ZM929 1182H934V1191H929ZM1025 1182H1261V1191H1025ZM1274 1182H1365V1191H1274ZM929 1197H934V1206H929ZM1041 1197H1120V1206H1041ZM1239 1197H1262V1206H1239ZM1349 1197H1365V1206H1349Z"/>
<text class="m" x="941" y="1092">O</text><text class="m" x="941" y="1102">F</text><text class="m" x="941" y="1111">F</text>
<text class="m" x="1067" y="1092">O</text><text class="m" x="1067" y="1102">F</text><text class="m" x="1067" y="1111">F</text>
<text class="m" x="1127" y="1092">O</text><text class="m" x="1127" y="1102">F</text><text class="m" x="1127" y="1111">F</text>
<text x="985" y="1096" textLength="45">AUTO DRY</text><text x="986" y="1107" textLength="43">58.75 MIN</text>
<text class="m" x="1099" y="1090">EX</text><text x="1087" y="1101" textLength="22">CARE</text><text x="1082" y="1112" textLength="29">15 MIN</text>
<text x="1177" y="1097" textLength="47">TIMED DRY</text><text x="1184" y="1107" textLength="30">90 MIN</text>
<text x="1302" y="1097" textLength="44">AIR FLUFF</text><text x="1304" y="1107" textLength="38">22.5 MIN</text>
<text x="827" y="1123" textLength="18">CAM</text><text x="865" y="1123" textLength="32">CIRCUIT</text>
<text class="m" x="835" y="1138">1</text><text class="m" x="835" y="1153">10</text><text class="m" x="835" y="1168">2</text><text class="m" x="835" y="1183">3</text><text class="m" x="835" y="1198">4B</text>
<text x="852" y="1138" textLength="57">B-A HEATER</text><text x="852" y="1153" textLength="53">B-S MOTOR</text><text x="852" y="1168" textLength="53">B-C MOTOR</text><text x="851" y="1183" textLength="75">X-TM TIMER MOTOR</text><text x="852" y="1198" textLength="58">X-H BUZZER</text>
<use href="#tri" x="1065" y="1223"/><text class="n m" x="1070" y="1223">A</text>
<use href="#tri" x="1074" y="1243"/><text class="n m" x="1079" y="1243">B</text>
<use href="#tri" x="1210" y="1222"/><text class="n m" x="1215" y="1222">A</text>
<use href="#tri" x="1322" y="1222"/><text class="n m" x="1327" y="1222">A</text>
<path d="M1041 1223H1065M1041 1243H1074M1090 1243H1114M1226 1222H1239M1256 1222H1262M1337 1222H1349M1365 1222H1371"/>

<!-- BAR CHART TEXT -->
<text x="1115" y="1273" textLength="201">THE BAR CHART ABOVE REPRESENTS ONE</text><text x="1114" y="1283" textLength="196">COMPLETE REVOLUTION OF TIMER SHAFT.</text>
<text x="1115" y="1304" textLength="210">SHADED PORTION OF BAR CHART INDICATES</text><text x="1115" y="1314" textLength="200">THE PROPORTIONAL TIMES THAT INTERNAL</text><text x="1115" y="1324" textLength="146">TIMER CONTACTS ARE CLOSED.</text>
<text x="1091" y="1343" textLength="35">BUZZER</text>
<path class="d" d="M1073 1350L1089 1359L1073 1367ZM1073 1389L1089 1398L1073 1406Z"/><text class="n m" x="1078" y="1359">A</text><text class="n m" x="1078" y="1398">B</text>
<text x="1092" y="1359" textLength="256">CIRCUIT "X-H" WILL CLOSE FOR 5 SEC ±3 SEC 1 TO</text><text x="1092" y="1370" textLength="248">2 TIMES IN THIS AREA.  WHEN 2 CLOSURES OCCUR</text><text x="1092" y="1381" textLength="140">THEY WILL BE 5 MIN. APART.</text>
<text x="1092" y="1398" textLength="257">CIRCUIT "X-H" WILL CLOSE FOR 5 SEC ±3 SEC 6 TO</text><text x="1092" y="1409" textLength="234">7 TIMES IN THIS AREA.  THE CLOSURES WILL BE</text><text x="1092" y="1420" textLength="88">5 MINUTES APART.</text>

<!-- VOLTAGE DIMS -->
<path d="M339 1245V1302M1010 1246V1299M692 1274V1306M339 1253H664M734 1253H1009M339 1288H452M525 1288H681M700 1288H824M894 1288H1007"/>
<text x="673" y="1254" textLength="49" class="l">240 VAC</text><text x="468" y="1289" textLength="48" class="l">120 VAC</text><text x="841" y="1289" textLength="48" class="l">120 VAC</text>
<path class="f" d="M345 1253h5M345 1288h5M683 1288h4M701 1288h4M1001 1254h5M1002 1288h5" style="stroke-width:3"/>
<circle cx="339" cy="1317" r="5.5"/><circle cx="692" cy="1317" r="5.5"/><circle cx="1010" cy="1317" r="5.5"/>
<text x="350" y="1311" textLength="12">L2</text><text x="705" y="1311">N</text><text x="1018" y="1312" textLength="9">L1</text>

<!-- DRYER TOP WIRES -->
<path d="M339 1322V1502H368M381 1502H460M462 1502H478M336 1404L339 1408L342 1404"/>
<path d="M692 1323V1373M626 1348H816V1393M626 1348L630 1345M626 1348L630 1351"/>
<rect x="689" y="1342" width="6" height="12" style="fill:#000"/><use href="#h" x="728" y="1348"/><use href="#h" x="772" y="1348"/>
<circle cx="692" cy="1378" r="5.5"/><path d="M685 1389H699M692 1384V1389M686 1393L688 1389M691 1393L693 1389M696 1393L698 1389"/>
<path class="dm" d="M689 1360L588 1369"/>
<text x="645" y="1342" textLength="15">WHT</text><text x="697" y="1332" textLength="17">WHT</text><text x="720" y="1340" textLength="17">WHT</text><text x="793" y="1342" textLength="18">WHT</text><text x="697" y="1362" textLength="18" style="font-size:9px">GRN</text><text x="672" y="1401" textLength="38">CABINET</text>
<text x="562" y="1338" textLength="59">TO NEUTRAL</text><text x="562" y="1348" textLength="55">CONNECTOR</text>
<text x="381" y="1371" textLength="201">WIRE NOT INCLUDED IN MODELS PROVIDED</text><text x="382" y="1382" textLength="130">WITH 4-WIRE POWER CORD.</text>
<text x="347" y="1406" textLength="15">BLK</text>
<!-- drum -->
<circle cx="546" cy="1398" r="15"/><path d="M536 1419V1392Q546 1380 556 1392V1419M546 1396V1402"/>
<path class="da" d="M362 1424H530M562 1424H792M362 1424V1492L369 1498"/>
<use href="#h" x="458" y="1424"/>
<use href="#x" x="536" y="1424"/><use href="#x" x="556" y="1424"/>
<text x="450" y="1417" textLength="16">BLK</text><text x="628" y="1417" textLength="17">WHT</text><text x="570" y="1394" textLength="23">DRUM</text><text x="570" y="1405" textLength="30">LIGHT</text>
<!-- door switch -->
<circle cx="817" cy="1423" r="15"/><use href="#x" x="817" y="1398"/><use href="#x" x="797" y="1424"/><use href="#x" x="836" y="1424"/>
<path d="M817 1404L824 1424H836M800 1424H810"/>
<text x="824" y="1387">C</text><text x="781" y="1415" textLength="11">NC</text><text x="843" y="1433" textLength="12">NO</text><text x="805" y="1442" textLength="24">DOOR</text><text x="803" y="1451" textLength="35">SWITCH</text>
<path d="M842 1424H851"/><path class="dm" d="M855 1423H945"/><use href="#h" x="862" y="1423"/>
<text x="851" y="1415" textLength="24">GRAY</text><circle cx="891" cy="1423" r="1.4" class="f"/><path d="M891 1423V1473"/><path d="M888 1457L891 1453L894 1457M888 1460L891 1456L894 1460"/><text x="897" y="1454" textLength="24">GRAY</text>
<!-- start switch -->
<rect x="955" y="1409" width="31" height="22"/><path d="M963 1418H978M970 1418V1411M956 1424H966M975 1424H985"/>
<use href="#x" x="950" y="1424"/><use href="#x" x="990" y="1424"/>
<text x="956" y="1391" textLength="28">START</text><text x="955" y="1401" textLength="33">SWITCH</text>
<path d="M990 1430V1607"/><path class="d" d="M990 1607H891"/>
<path d="M891 1532V1607M890 1573L886 1568M890 1573L894 1568M890 1578L880 1606H431V1570"/>
<path class="d" d="M1010 1322V1478H916"/>
<path d="M1009 1323L998 1339H928M931 1336L927 1339L931 1342"/>
<text x="892" y="1333" textLength="26">TO L1</text><text x="864" y="1343" textLength="54">CONNECTOR</text><text x="937" y="1333" textLength="38">RED/BLK</text>
<text x="1014" y="1450" textLength="17">RED</text><text x="994" y="1533" textLength="17">TAN</text>
<!-- dryer motor -->
<path class="dm" d="M885 1483H830Q811 1483 811 1503Q811 1522 830 1522H885M896 1483H915Q929 1483 929 1503Q929 1522 915 1522H896"/>
<use href="#x" x="891" y="1478"/><use href="#x" x="910" y="1478"/><use href="#x" x="806" y="1503"/><use href="#x" x="891" y="1527"/><use href="#x" x="910" y="1527"/><use href="#x" x="934" y="1503"/>
<path d="M812 1503H822V1499H828V1496H836V1503H846V1496H848M846 1503V1511H848"/>
<use href="#c" x="860" y="1496"/><use href="#c" x="860" y="1511"/>
<path d="M867 1496L880 1505M867 1511H891V1521M891 1484V1495M880 1507L893 1501M910 1484V1495M910 1510V1521M905 1510L916 1502"/>
<path d="M940 1503H955"/><circle cx="960" cy="1503" r="5"/><path d="M960 1508V1512M953 1512H967M954 1516L956 1512M959 1516L961 1512M964 1516L966 1512"/>
<text x="917" y="1470" textLength="12">M2</text><text x="872" y="1470" textLength="12">M5</text><text x="938" y="1491" textLength="17">GRN</text><text x="850" y="1489" textLength="26">START</text><text x="852" y="1517" textLength="17">RUN</text><text x="940" y="1524" textLength="38">CABINET</text><text x="947" y="1533" textLength="24">BASE</text>
<text x="836" y="1538" textLength="31">MOTOR</text><text x="873" y="1536" textLength="12">M3</text><text x="919" y="1532" textLength="12">M1</text><text x="870" y="1561" textLength="18">TAN</text>
<text x="790" y="1512" textLength="11">M4</text>
<path d="M910 1533V1785M913 1532L946 1576V1922H507V1831H535"/>
<text x="913" y="1685" textLength="19">RED</text>

<!-- DRYER TIMER -->
<path class="da" d="M378 1464H478V1810H378Z"/>
<path d="M398 1478V1790H444L460 1783M462 1790H477M398 1478H445L460 1471M462 1478H477M378 1502H445L460 1495"/>
<circle cx="460" cy="1478" r="1.4"/><circle cx="460" cy="1502" r="1.4"/><circle cx="460" cy="1570" r="1.4"/><circle cx="460" cy="1790" r="1.4"/><circle cx="398" cy="1502" r="1.4" class="f"/>
<use href="#x" x="374" y="1502"/><use href="#x" x="374" y="1569"/><use href="#x" x="482" y="1478"/><use href="#x" x="482" y="1502"/><use href="#x" x="482" y="1513"/><use href="#x" x="482" y="1523"/><use href="#x" x="482" y="1570"/><use href="#x" x="482" y="1580"/><use href="#x" x="482" y="1607"/><use href="#x" x="482" y="1790"/>
<path class="d" d="M380 1570H408"/>
<path d="M408 1562L424 1570H446L460 1562M462 1570H477M487 1607L494 1620L521 1673"/>
<path class="d" d="M408 1566V1570M521 1673H680"/>
<path class="d" d="M488 1580H593V1722H664"/>
<!-- buzzer -->
<rect x="412" y="1432" width="19" height="20" class="d"/>
<path class="da" d="M417 1452V1457H354V1569H369M426 1452V1459H495V1502H488"/>
<text x="434" y="1444" textLength="37">BUZZER</text>
<text x="485" y="1466">S</text><text x="490" y="1532">C</text><text x="483" y="1559" textLength="12">TM</text><text x="488" y="1619">X</text><text x="365" y="1513">B</text><text x="365" y="1580">N</text><text x="485" y="1779">A</text>
<!-- purp -->
<path d="M488 1478H603"/><rect x="603" y="1469" width="14" height="18"/><rect x="646" y="1469" width="14" height="18"/><circle cx="631" cy="1478" r="15"/><use href="#x" x="611" y="1478"/><use href="#x" x="652" y="1478"/><path d="M618 1478H625L640 1471"/><path d="M660 1478H680"/>
<path class="d" d="M680 1478V1585L671 1620M671 1513V1620"/>
<text x="536" y="1472" textLength="24">PURP</text><text x="613" y="1447" textLength="32">OPTION</text><text x="613" y="1457" textLength="33">SWITCH</text>
<path d="M488 1510L506 1502H700M712 1502H741M753 1502H800M488 1513H671M488 1522H546V1570H488"/><use href="#h" x="592" y="1502"/>
<use href="#x" x="706" y="1502"/><use href="#x" x="747" y="1502"/><circle cx="728" cy="1502" r="15"/><path d="M718 1502Q723 1495 728 1502T738 1502"/>
<text x="582" y="1494" textLength="18">BRN</text><text x="708" y="1470" textLength="42">THERMAL</text><text x="708" y="1479" textLength="42">LIMITER</text><text x="767" y="1497" textLength="18">BRN</text>
<circle cx="546" cy="1546" r="15"/><path d="M546 1535a2 2 0 0 1 0 4a2 2 0 0 1 0 4a2 2 0 0 1 0 4a2 2 0 0 1 0 4"/>
<text x="564" y="1540" textLength="29">TIMER</text><text x="564" y="1550" textLength="30">MOTOR</text>
<text x="767" y="1599" textLength="18">TAN</text>
<!-- test leads -->
<path d="M634 1622L639 1626L634 1630M639 1626H703V1636M634 1642L639 1646L634 1650M639 1646H671V1722M664 1722H715V1707"/>
<rect x="664" y="1623" width="13" height="5" style="fill:#000"/><rect x="664" y="1718" width="12" height="7" style="fill:#000"/>
<use href="#x" x="702" y="1642"/><use href="#x" x="684" y="1673"/><use href="#x" x="715" y="1702"/><use href="#x" x="761" y="1653"/><use href="#x" x="761" y="1690"/>
<rect x="691" y="1647" width="65" height="51" class="d"/>
<text x="605" y="1631" textLength="19">TEST</text><text x="601" y="1642" textLength="28">LEADS</text><text x="661" y="1634" textLength="18">BRN</text><text x="709" y="1634" textLength="11">P6</text><text x="615" y="1668" textLength="18">TAN</text><text x="675" y="1687" textLength="12">P5</text>
<text x="696" y="1657" textLength="55">ELECTRONIC</text><text x="699" y="1668" textLength="45">MOISTURE</text><text x="703" y="1679" textLength="36">SENSOR</text><text x="701" y="1689" textLength="42">CONTROL</text>
<text x="761" y="1642" textLength="10">P1</text><text x="763" y="1703" textLength="11">P2</text><text x="723" y="1711" textLength="10">P4</text><text x="661" y="1731" textLength="18">WHT</text>
<path class="d" d="M767 1653H790M767 1691H790"/><path d="M792 1654H810M792 1691H810"/><use href="#h" x="792" y="1654"/><use href="#h" x="792" y="1691"/>
<rect x="809" y="1645" width="15" height="18"/><rect x="809" y="1682" width="15" height="17"/><use href="#x" x="817" y="1654"/><use href="#x" x="817" y="1691"/>
<text x="782" y="1646" textLength="17">RED</text><text x="782" y="1683" textLength="17">RED</text>
<path class="d" d="M825 1654H831V1657H843V1669H828V1678H843V1688H833M825 1691H831V1688M828 1672H840V1680H828Z"/>
<text x="849" y="1667" textLength="42">CONTACT</text><text x="852" y="1678" textLength="37">SENSOR</text>
<!-- thermostats -->
<path d="M487 1791H660M712 1791H765M817 1791H864M876 1791H881l2-3 3 6 3-6 3 6 3-6 3 6 2-3H904M811 1797V1851H790M786 1847L790 1851L786 1855M812 1852L831 1870M706 1797V1810M706 1822V1830M706 1860V1868"/>
<use href="#h" x="621" y="1791"/>
<circle cx="687" cy="1791" r="16"/><circle cx="791" cy="1791" r="16"/><path d="M672 1791H688V1798H692V1788M776 1791H792V1798H796V1788"/>
<use href="#x" x="666" y="1791"/><use href="#x" x="706" y="1791"/><use href="#x" x="771" y="1791"/><use href="#x" x="811" y="1791"/><use href="#x" x="870" y="1791"/><use href="#x" x="910" y="1791"/><use href="#x" x="706" y="1816"/><use href="#x" x="706" y="1874"/>
<circle cx="706" cy="1845" r="15"/><path d="M706 1832V1858M704 1840L709 1843L704 1847L709 1850"/>
<text x="612" y="1783" textLength="18">ORG</text><text x="668" y="1759" textLength="42">CONTROL</text><text x="658" y="1768" textLength="61">THERMOSTAT</text><text x="658" y="1799">1</text><text x="720" y="1782">3</text>
<text x="763" y="1758" textLength="61">HIGH LIMIT</text><text x="761" y="1767" textLength="61">THERMOSTAT</text><text x="714" y="1802" textLength="42">ORG/BLK</text>
<text x="831" y="1786" textLength="17">BLK</text><text x="873" y="1806" textLength="35">HEATER</text><text x="873" y="1815" textLength="36">4500 W</text><text x="813" y="1823" textLength="25">PURP</text>
<text x="798" y="1876" textLength="94">THIS HARNESS WIRE</text><text x="807" y="1887" textLength="79">NOT FUNCTIONAL</text><text x="808" y="1898" textLength="76">ON THIS MODEL.</text>
<text x="675" y="1886" textLength="59">THERMOSTAT</text><text x="667" y="1896" textLength="84">HEATER, 12.5K Ω</text>
<!-- fabric selector -->
<rect x="546" y="1816" width="41" height="66"/>
<path d="M549 1831V1873M546 1831H559L571 1822M546 1852H559L571 1843M549 1873H559L571 1864"/>
<circle cx="573" cy="1831" r="1.4"/><circle cx="573" cy="1852" r="1.4"/><circle cx="573" cy="1873" r="1.4"/>
<path class="dm" d="M574 1831L599 1837"/><path d="M599 1837l-2 3 3 3-3 3 3 3-3 2-7 3H574M599 1857l-2 3 3 3-3 3 3 2-7 3-18 2"/>
<use href="#x" x="541" y="1831"/><use href="#x" x="592" y="1874"/><path d="M598 1874H701"/><use href="#h" x="637" y="1874"/>
<text x="538" y="1821">4</text><text x="602" y="1882">5</text><text x="607" y="1842" textLength="29">750 Ω</text><text x="607" y="1858" textLength="29">750 Ω</text><text x="626" y="1883" textLength="24">BLUE</text>
<text x="522" y="1896" textLength="84">FABRIC SELECTOR</text><text x="539" y="1907" textLength="33">SWITCH</text>
<text x="397" y="1824" textLength="62">DRYER TIMER</text>
<text x="738" y="1913" textLength="18">RED</text><use href="#h" x="749" y="1922"/>
<text x="357" y="1869" textLength="32">NOTE:</text><text x="357" y="1881" textLength="131">DASHED LINES INDICATE</text><text x="357" y="1890" textLength="131">CIRCUITS THAT ARE NOT</text><text x="357" y="1901" textLength="87">IN ALL MODELS.</text>
<!-- fabric table -->
<text x="1109" y="1522" textLength="172" class="l">FABRIC SELECTOR SWITCH</text>
<rect x="1069" y="1536" width="264" height="70" style="stroke-width:1.4"/>
<path d="M1132 1536V1606M1205 1536V1606M1069 1549H1333M1069 1563H1333M1069 1577H1333M1069 1592H1333"/>
<text x="1077" y="1543" textLength="42">POSITION</text><text x="1145" y="1543" textLength="45">FUNCTION</text><text x="1217" y="1543" textLength="105">RESISTANCE (4-5) Ω</text>
<text class="m" x="1097" y="1556">1</text><text class="m" x="1097" y="1570">2</text><text class="m" x="1097" y="1584">3</text><text class="m" x="1097" y="1598">4</text>
<text x="1154" y="1557" textLength="21">HIGH</text><text x="1229" y="1557" textLength="66">OPEN CIRCUIT</text>
<text x="1149" y="1570" textLength="34">MEDIUM</text><text x="1240" y="1570" textLength="50">1.5K ±5%</text>
<text x="1137" y="1584" textLength="60">MEDIUM/LOW</text><text x="1247" y="1583" textLength="42">750 ±5%</text>
<text x="1157" y="1598" textLength="19">LOW</text><text x="1251" y="1598" textLength="35">10 MAX</text>
<!-- E and title -->
<path d="M1304 1788V1838M1304 1788H1334M1304 1812H1324M1304 1838H1334" style="stroke-width:1.8"/>
<text x="1206" y="1878" textLength="151" style="font-size:16px">WIRING DIAGRAM</text>
<text x="1231" y="1897" textLength="132" style="font-size:16px">1371318000 A</text>
</svg>
</body></html>
